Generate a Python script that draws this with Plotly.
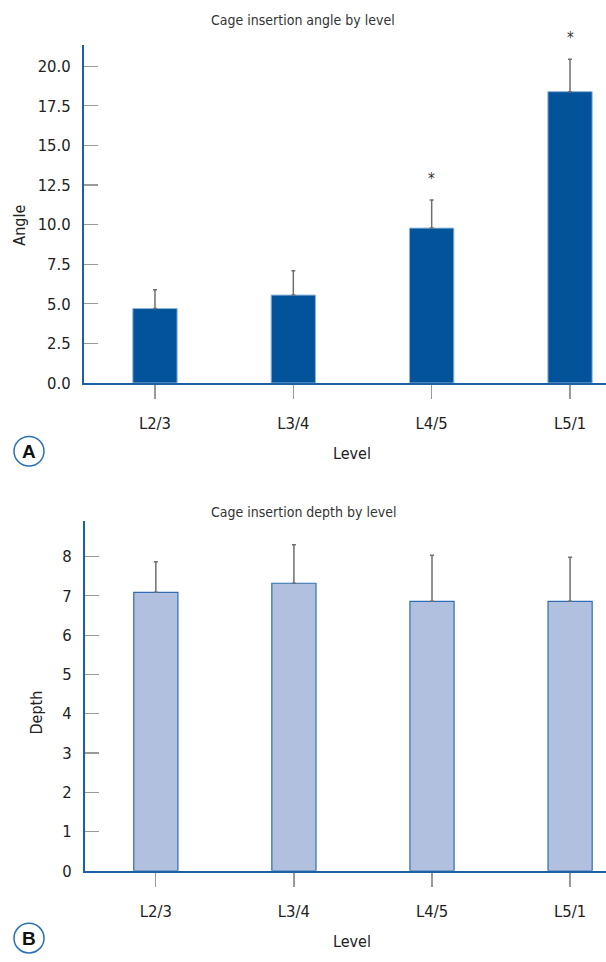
import plotly.graph_objects as go

levels = ["L2/3", "L3/4", "L4/5", "L5/1"]
angle_mean = [4.70, 5.55, 9.78, 18.40]
angle_sd = [1.18, 1.53, 1.77, 2.05]
angle_sig = ["", "", "*", "*"]
depth_mean = [7.09, 7.32, 6.86, 6.86]
depth_sd = [0.78, 0.98, 1.17, 1.12]
angle_ticks = [0, 2.5, 5, 7.5, 10, 12.5, 15, 17.5, 20]
depth_ticks = [0, 1, 2, 3, 4, 5, 6, 7, 8]

W, H = 606, 962
FONT = "DejaVu Sans Condensed, Roboto, sans-serif"
AXIS_BLUE = "#1b5fa6"
TICK_GRAY = "#9a9a9a"

def px(x):
    return x / W

def py(y):
    return 1 - y / H

fig = go.Figure()
fig.add_trace(go.Bar(
    x=list(range(len(levels))), y=angle_mean, width=0.32,
    marker=dict(color="#02539a", line=dict(color="#8db3dc", width=1)),
    error_y=dict(type="data", symmetric=False, array=angle_sd, arrayminus=[0]*len(levels),
                 color="#6e6e6e", thickness=1.5, width=2),
    xaxis="x", yaxis="y", showlegend=False, hoverinfo="skip"))
fig.add_trace(go.Bar(
    x=list(range(len(levels))), y=depth_mean, width=0.32,
    marker=dict(color="#b0c0de", line=dict(color="#2f6db3", width=1.2)),
    error_y=dict(type="data", symmetric=False, array=depth_sd, arrayminus=[0]*len(levels),
                 color="#6e6e6e", thickness=1.5, width=2),
    xaxis="x2", yaxis="y2", showlegend=False, hoverinfo="skip"))

xcommon = dict(
    tickmode="array", tickvals=list(range(len(levels))), ticktext=levels,
    range=[-0.513, 3.26], showgrid=False, zeroline=False,
    showline=True, linecolor=AXIS_BLUE, linewidth=2,
    ticks="outside", ticklen=14, tickwidth=1.2, tickcolor=TICK_GRAY,
    tickfont=dict(family=FONT, size=16.5, color="#222"),
    ticklabelstandoff=10,
)
ycommon = dict(
    showgrid=False, zeroline=False, showline=True, linecolor=AXIS_BLUE, linewidth=2,
    ticks="inside", ticklen=14, tickwidth=1.2, tickcolor=TICK_GRAY,
    tickfont=dict(family=FONT, size=16.5, color="#222"),
    ticklabelstandoff=8,
)

fig.update_layout(
    width=W, height=H, margin=dict(l=0, r=0, t=0, b=0),
    paper_bgcolor="white", plot_bgcolor="white", bargap=0,
    xaxis=dict(domain=[px(84), 1], anchor="y", **xcommon),
    yaxis=dict(domain=[py(387), py(45)], anchor="x", range=[0, 342/16],
               tickmode="array", tickvals=angle_ticks,
               ticktext=[f"{v:.1f}" for v in angle_ticks], **ycommon),
    xaxis2=dict(domain=[px(85), 1], anchor="y2", **xcommon),
    yaxis2=dict(domain=[py(880), py(526)], anchor="x2", range=[0, 354/39.7],
                tickmode="array", tickvals=depth_ticks,
                ticktext=[str(v) for v in depth_ticks], **ycommon),
)

def ann(x, y, text, size, color="#222", family=FONT, angle=0, xref="paper", yref="paper"):
    return dict(x=x, y=y, xref=xref, yref=yref, text=text, showarrow=False,
                xanchor="center", yanchor="middle", textangle=angle,
                font=dict(family=family, size=size, color=color))

anns = []
for i, s in enumerate(angle_sig):
    if s:
        a = ann(i, angle_mean[i] + angle_sd[i], s, 15, color="#333", xref="x", yref="y")
        a["yshift"] = 21
        anns.append(a)
anns.append(ann(px(303), py(20), "Cage insertion angle by level", 14, "#333"))
anns.append(ann(px(303), py(517), "Cage insertion depth by level", 14, "#333"))
anns.append(ann(px(352), py(458), "Level", 16))
anns.append(ann(px(352), py(951), "Level", 16))
anns.append(ann(px(20), py(227), "Angle", 16, angle=-90))
anns.append(ann(px(37), py(720), "Depth", 16, angle=-90))
for letter, cy in [("A", 456), ("B", 948)]:
    a = ann(px(29), py(cy), f"<b>{letter}</b>", 19, "#111", family="Liberation Sans, Arial, sans-serif")
    anns.append(a)
fig.update_layout(annotations=anns)

shapes = []
for cy in [456, 948]:
    shapes.append(dict(type="circle", xref="paper", yref="paper",
                       x0=px(14), x1=px(44), y0=py(cy + 15), y1=py(cy - 15),
                       line=dict(color="#2a6fb0", width=1.5)))
fig.update_layout(shapes=shapes)

post = ("document.documentElement.style.margin='0';"
        "document.documentElement.style.overflow='hidden';"
        "document.body.style.margin='0';"
        "document.body.style.overflow='hidden';"
        "var g=document.querySelector('.plotly-graph-div');"
        "g.style.position='fixed';g.style.top='0px';g.style.left='0px';")
fig.write_html("out.html", config={"displayModeBar": False, "staticPlot": True}, post_script=post)
